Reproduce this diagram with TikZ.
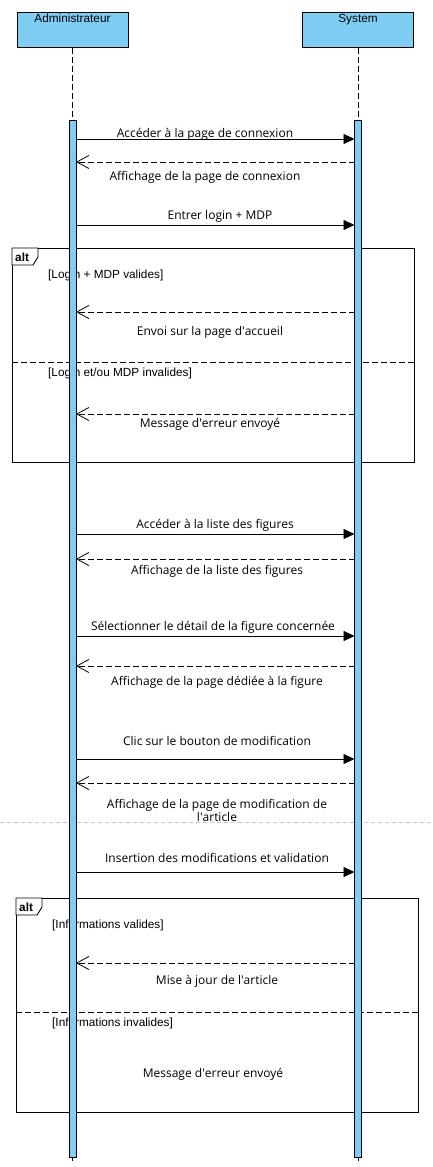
\documentclass[tikz,border=0pt]{standalone}
\usepackage{fontspec}
\setmainfont{Open Sans}
\newfontfamily\umlfont{Liberation Sans}
\usetikzlibrary{arrows.meta}
\definecolor{lifeblue}{RGB}{126,206,244}

\begin{document}
\begin{tikzpicture}[x=1pt,y=-1pt,
    actor/.style={draw,fill=lifeblue,line width=0.9pt,anchor=north,
      minimum width=111pt,inner sep=2pt,text height=8pt,text depth=23pt,
      font=\umlfont\fontsize{11.8}{13}\selectfont},
    actbar/.style={draw,fill=lifeblue,line width=0.9pt,anchor=north,
      minimum width=7pt,minimum height=1037pt,inner sep=0pt},
    lifeline/.style={line width=0.8pt,dash pattern=on 6pt off 3pt},
    call/.style={line width=0.8pt,-{Triangle[length=11pt,width=10pt]}},
    reply/.style={line width=0.8pt,dash pattern=on 6pt off 3pt,
      -{Straight Barb[length=12pt,width=13pt,line width=0.8pt]}},
    msg/.style={anchor=base,inner sep=0pt,align=center,
      font=\fontsize{12}{13}\selectfont},
    frame/.style={draw,line width=0.9pt,anchor=north west,inner sep=0pt,
      minimum width=402pt,minimum height=214pt},
    guard/.style={anchor=base west,inner sep=0pt,
      font=\umlfont\fontsize{11.8}{13}\selectfont},
    opname/.style={anchor=base west,inner sep=0pt,
      font=\umlfont\bfseries\fontsize{11.8}{13}\selectfont}]
  \def \xa {72.5}   % lifeline of Administrateur
  \def \xs {358}    % lifeline of System
  \def \q {\textquotesingle}
  \useasboundingbox (0,0) rectangle (432,1167);

  % page break
  \coordinate (brk1) at (0,822);
  \coordinate (brk2) at (432,822);
  \draw[gray!45,line width=0.6pt,dash pattern=on 4pt off 3pt] (brk1) -- (brk2);

  % actors and lifelines
  \node[actor] (admin) at (\xa,12) {Administrateur};
  \node[actor] (sys) at (\xs,12) {System};
  \coordinate (adminend) at (\xa,1163);
  \coordinate (sysend) at (\xs,1163);
  \draw[lifeline] (admin.south) -- (adminend);
  \draw[lifeline] (sys.south) -- (sysend);

  % combined fragments
  \foreach \f/\x/\y in {1/12/248, 2/16/898}
  {
    \node[frame] (alt\f) at (\x,\y) {};
    \draw[line width=0.9pt,fill=white] (alt\f.north west) -- ++(26,0) -- ++(0,9)
      -- ++(-5,8) -- ++(-21,0) -- cycle;
    \node[opname] (op\f) at (\x+3,\y+13) {alt};
    \coordinate (sepl\f) at (\x,\y+114);
    \coordinate (sepr\f) at (\x+402,\y+114);
    \draw[line width=0.8pt,dash pattern=on 6pt off 3pt] (sepl\f) -- (sepr\f);
  }
  \node[guard] (g1) at (48,278) {[Login + MDP valides]};
  \node[guard] (g2) at (48,376) {[Login et/ou MDP invalides]};
  \node[guard] (g3) at (52,928) {[Informations valides]};
  \node[guard] (g4) at (52,1026) {[Informations invalides]};

  % activations
  \node[actbar] (abar) at (\xa,120) {};
  \node[actbar] (sbar) at (\xs,120) {};

  % calls
  \foreach \y in {139,225,534,636,759,872}
  {
    \coordinate (ca\y) at (\xa+3.5,\y);
    \coordinate (cs\y) at (\xs-3.5,\y);
    \draw[call] (ca\y) -- (cs\y);
  }
  % replies
  \foreach \y in {162,312,414,559,666,783,963}
  {
    \coordinate (ra\y) at (\xa+3.5,\y);
    \coordinate (rs\y) at (\xs-3.5,\y);
    \draw[reply] (rs\y) -- (ra\y);
  }

  % message texts
  \foreach \n/\x/\y/\txt in {
      1/205/137/{Accéder à la page de connexion},
      2/205/180/{Affichage de la page de connexion},
      3/220/219/{Entrer login + MDP},
      4/210/335/{Envoi sur la page d\q accueil},
      5/210/427/{Message d\q erreur envoyé},
      6/215/528/{Accéder à la liste des figures},
      7/217/574/{Affichage de la liste des figures},
      8/213/630/{Sélectionner le détail de la figure concernée},
      9/217/685/{Affichage de la page dédiée à la figure},
      10/217/745/{Clic sur le bouton de modification},
      11/217/821/{Affichage de la page de modification de\\l\q article},
      12/217/862/{Insertion des modifications et validation},
      13/217/984/{Mise à jour de l\q article},
      14/213/1077/{Message d\q erreur envoyé}}
  {
    \node[msg] (m\n) at (\x,\y) {\txt};
  }
\end{tikzpicture}
\end{document}
